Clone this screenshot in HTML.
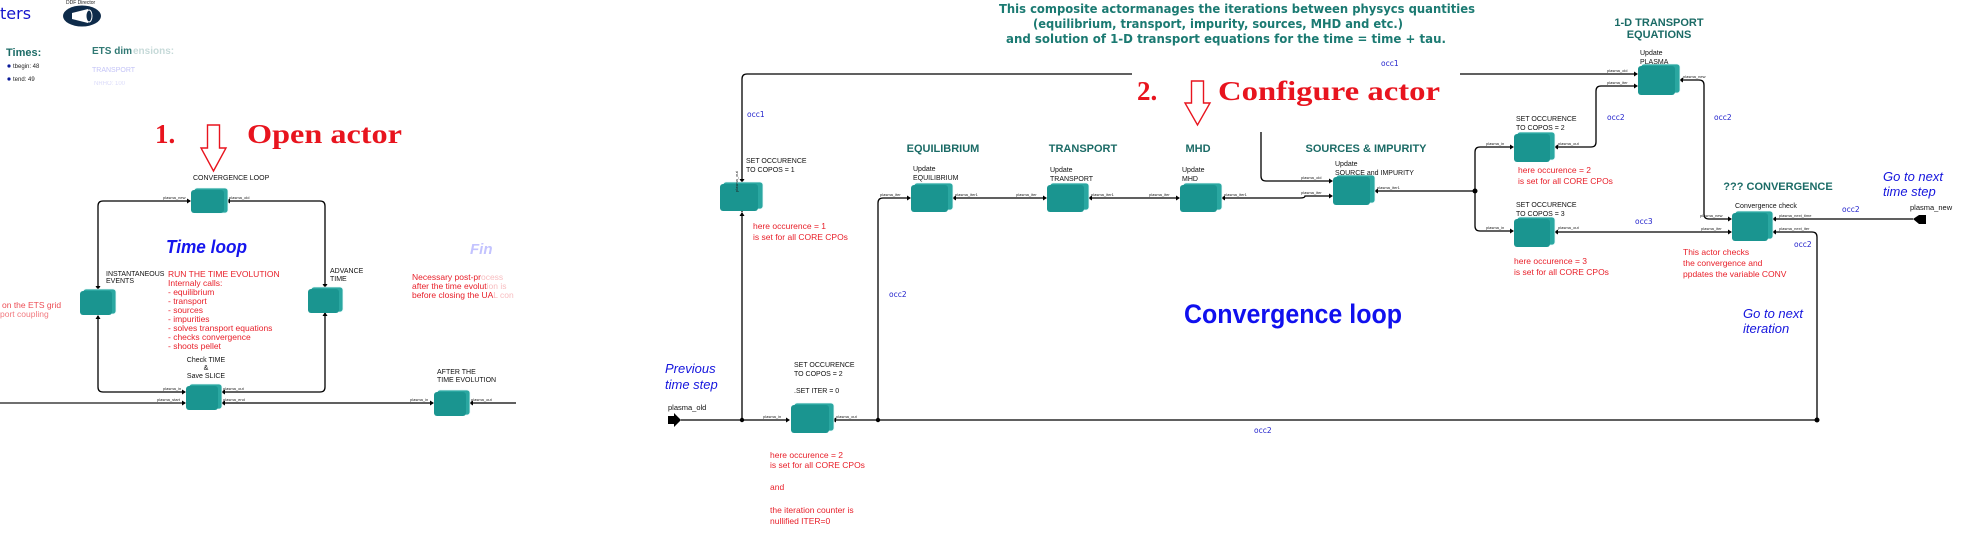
<!DOCTYPE html>
<html><head><meta charset="utf-8"><style>
html,body{margin:0;padding:0;background:#fff;}
svg{display:block;font-family:"Liberation Sans",sans-serif;}
.lb{font-size:7px;fill:#111;}
.pt{font-size:4px;fill:#222;}
.red{font-size:8.5px;fill:#e8202a;}
.occ{font-size:7.5px;fill:#2222cc;font-family:"DejaVu Sans",sans-serif;}
.hd{font-size:11px;font-weight:bold;fill:#1b6b66;}
.bl{font-style:italic;fill:#1515dd;font-size:13px;}
.ln{fill:none;stroke:#000;stroke-width:1.3;}
.b1{fill:#2aa7a1;stroke:#eafafa;stroke-width:0.8;}
.b2{fill:#1a9590;}
.ser{font-family:"Liberation Serif",serif;font-weight:bold;font-size:27px;fill:#e8141e;}
.dj{font-family:"DejaVu Sans",sans-serif;font-size:12.3px;font-weight:bold;fill:#1b7a72;}
</style></head><body>
<svg width="1979" height="547" viewBox="0 0 1979 547" xmlns="http://www.w3.org/2000/svg">
<rect width="1979" height="547" fill="#fff"/>

<!-- ===== LEFT PART ===== -->
<text x="0" y="19" style="font-size:16px;fill:#1515cc;font-family:'DejaVu Sans',sans-serif">ters</text>
<text x="66" y="4" font-size="5" fill="#222">DDF Director</text>
<ellipse cx="82" cy="16" rx="19" ry="10.5" fill="#0e2b4a"/>
<path d="M72 13 L88 9 L88 23 L72 19 Z" fill="#fff"/>
<ellipse cx="89" cy="16" rx="3" ry="6" fill="#0e2b4a" stroke="#fff" stroke-width="1"/>
<text x="6" y="56" font-size="11" font-weight="bold" fill="#1b6b66">Times:</text>
<circle cx="9" cy="66" r="1.6" fill="#0a1a99"/><text x="13" y="68" font-size="6" fill="#222">tbegin: 48</text>
<circle cx="9" cy="79" r="1.6" fill="#0a1a99"/><text x="13" y="81" font-size="6" fill="#222">tend: 49</text>
<text x="92" y="54" font-size="10" font-weight="bold" fill="#1b6b66" opacity="0.9">ETS dim</text>
<text x="133" y="54" font-size="10" font-weight="bold" fill="#1b6b66" opacity="0.25">ensions:</text>
<text x="92" y="72" font-size="7" fill="#8888ee" opacity="0.5">TRANSPORT</text>
<text x="94" y="85" font-size="6" fill="#8888ee" opacity="0.3">NRHO: 100</text>

<text x="155" y="143" class="ser">1.</text>
<path d="M207.5 125 H219.5 V148 H226 L213.5 171 L201 148 H207.5 Z" fill="#fff" stroke="#e8141e" stroke-width="1.4"/>
<text x="247" y="143" class="ser" textLength="155" lengthAdjust="spacingAndGlyphs">Open actor</text>

<text x="193" y="180" class="lb">CONVERGENCE    LOOP</text>
<path class="ln" d="M325 288 V206 Q325 201 320 201 H227"/>
<path class="ln" d="M190 201 H103 Q98 201 98 206 V289"/>
<path class="ln" d="M98 316 V387 Q98 392 103 392 H185"/>
<path class="ln" d="M222 392 H320 Q325 392 325 387 V313"/>
<path class="ln" d="M0 403 H185" stroke-opacity="0.9"/>
<path class="ln" d="M222 403 H433"/>
<path class="ln" d="M470 403 H516"/>
<path d="M191 201 l-4 -2.5 v5z M226 201 l4 -2.5 v5z M98 290 l-2.5 -4 h5z M325 312 l-2.5 4 h5z M186 392 l-4 -2.5 v5z M186 403 l-4 -2.5 v5z M434 403 l-4 -2.5 v5z M98 315 l-2.5 4 h5z M325 288 l-2.5 -4 h5z M221 392 l4 -2.5 v5z M221 403 l4 -2.5 v5z M469 403 l4 -2.5 v5z" fill="#000"/>
<rect class="b1" x="194" y="188" width="34" height="25" rx="3"/><rect class="b2" x="191" y="190" width="33" height="23" rx="3"/>
<rect class="b1" x="83" y="289" width="33" height="25" rx="3"/><rect class="b2" x="80" y="291" width="32" height="24" rx="3"/>
<rect class="b1" x="311" y="287" width="32" height="25" rx="3"/><rect class="b2" x="308" y="289" width="31" height="24" rx="3"/>
<rect class="b1" x="189" y="384" width="33" height="25" rx="3"/><rect class="b2" x="186" y="386" width="32" height="24" rx="3"/>
<rect class="b1" x="437" y="390" width="33" height="25" rx="3"/><rect class="b2" x="434" y="392" width="32" height="24" rx="3"/>
<text x="163" y="199" class="pt">plasma_new</text><text x="229" y="199" class="pt">plasma_old</text>
<text x="163" y="390" class="pt">plasma_in</text><text x="223" y="390" class="pt">plasma_out</text>
<text x="157" y="401" class="pt">plasma_start</text><text x="223" y="401" class="pt">plasma_end</text>
<text x="410" y="401" class="pt">plasma_in</text><text x="471" y="401" class="pt">plasma_out</text>

<text x="166" y="253" font-size="18" font-weight="bold" font-style="italic" fill="#1515ee" textLength="81" lengthAdjust="spacingAndGlyphs">Time loop</text>
<text x="106" y="276" class="lb">INSTANTANEOUS</text><text x="106" y="283" class="lb">EVENTS</text>
<text x="330" y="273" class="lb">ADVANCE</text><text x="330" y="281" class="lb">TIME</text>
<g class="red"><text x="168" y="277">RUN THE TIME EVOLUTION</text><text x="168" y="286">Internaly calls:</text>
<text x="168" y="295">- equilibrium</text><text x="168" y="304">- transport</text><text x="168" y="313">- sources</text>
<text x="168" y="322">- impurities</text><text x="168" y="331">- solves transport equations</text>
<text x="168" y="340">- checks convergence</text><text x="168" y="349">- shoots pellet</text></g>
<text x="206" y="362" class="lb" text-anchor="middle">Check TIME</text>
<text x="206" y="370" class="lb" text-anchor="middle">&amp;</text>
<text x="206" y="378" class="lb" text-anchor="middle">Save SLICE</text>
<text x="437" y="374" class="lb">AFTER THE</text><text x="437" y="382" class="lb">TIME EVOLUTION</text>
<text x="2" y="308" class="red" opacity="0.8">on the ETS grid</text>
<text x="0" y="317" class="red" opacity="0.6">port coupling</text>
<text x="412" y="280" class="red">Necessary post-pr<tspan opacity="0.3">ocess</tspan></text>
<text x="412" y="289" class="red">after the time evolut<tspan opacity="0.3">ion is</tspan></text>
<text x="412" y="298" class="red">before closing the UA<tspan opacity="0.3">L con</tspan></text>
<text x="470" y="254" font-size="15" font-style="italic" font-weight="bold" fill="#8888ff" opacity="0.5">Fin</text>

<!-- ===== RIGHT PART ===== -->
<text x="999" y="13" class="dj" textLength="476" lengthAdjust="spacingAndGlyphs">This composite actormanages the iterations between physycs quantities</text>
<text x="1033" y="28" class="dj" textLength="370" lengthAdjust="spacingAndGlyphs">(equilibrium, transport, impurity, sources, MHD and etc.)</text>
<text x="1006" y="43" class="dj" textLength="440" lengthAdjust="spacingAndGlyphs">and solution of 1-D transport equations for the time = time + tau.</text>
<text x="1659" y="26" class="hd" text-anchor="middle">1-D TRANSPORT</text>
<text x="1659" y="38" class="hd" text-anchor="middle">EQUATIONS</text>

<text x="1137" y="100" class="ser">2.</text>
<path d="M1191.5 81 H1203.5 V103 H1210 L1197.5 125 L1185 103 H1191.5 Z" fill="#fff" stroke="#e8141e" stroke-width="1.4"/>
<text x="1218" y="100" class="ser" textLength="222" lengthAdjust="spacingAndGlyphs">Configure actor</text>

<path class="ln" d="M742 212 V79 Q742 74 747 74 H1132"/>
<path class="ln" d="M1460 74 H1636"/>
<path class="ln" d="M1261 132 V176 Q1261 181 1266 181 H1331"/>
<path class="ln" d="M742 420 V213"/>
<path class="ln" d="M681 420 H788"/>
<path class="ln" d="M833 420 H1817 V237 Q1817 232 1812 232 H1774"/>
<path class="ln" d="M878 420 V203 Q878 198 883 198 H909"/>
<path class="ln" d="M953 198 H1045"/>
<path class="ln" d="M1089 198 H1178"/>
<path class="ln" d="M1222 198 H1300 Q1305 198 1305 196 H1331"/>
<path class="ln" d="M1375 191 H1475"/>
<path class="ln" d="M1512 147 H1480 Q1475 147 1475 152 V226 Q1475 231 1480 231 H1512"/>
<path class="ln" d="M1555 147 H1591 Q1596 147 1596 142 V91 Q1596 86 1601 86 H1636"/>
<path class="ln" d="M1680 80 H1699 Q1704 80 1704 85 V214 Q1704 219 1709 219 H1730"/>
<path class="ln" d="M1555 232 H1730"/>
<path class="ln" d="M1773 219 H1913"/>
<path d="M742 212 l-2.5 4 h5z M742 183 l-2.5 -4 h5z M790 420 l-4 -2.5 v5z M911 198 l-4 -2.5 v5z M1047 198 l-4 -2.5 v5z M1180 198 l-4 -2.5 v5z M1333 181 l-4 -2.5 v5z M1333 196 l-4 -2.5 v5z M1514 147 l-4 -2.5 v5z M1514 231 l-4 -2.5 v5z M1638 74 l-4 -2.5 v5z M1638 86 l-4 -2.5 v5z M1732 219 l-4 -2.5 v5z M1732 232 l-4 -2.5 v5z M832 420 l4 -2.5 v5z M952 198 l4 -2.5 v5z M1088 198 l4 -2.5 v5z M1221 198 l4 -2.5 v5z M1374 191 l4 -2.5 v5z M1554 147 l4 -2.5 v5z M1554 232 l4 -2.5 v5z M1679 80 l4 -2.5 v5z M1772 219 l4 -2.5 v5z M1772 232 l4 -2.5 v5z" fill="#000"/>
<path d="M668 416 h6 v-3 l7 7 l-7 7 v-3 h-6z" fill="#000"/>
<path d="M1913 219 l6 -4 h7 v9 h-7z" fill="#000"/>
<circle cx="742" cy="420" r="2.2"/><circle cx="878" cy="420" r="2.2"/><circle cx="1475" cy="191" r="2.5"/><circle cx="1817" cy="420" r="2.5"/>

<rect class="b1" x="723" y="182" width="40" height="27" rx="3"/><rect class="b2" x="720" y="184" width="38" height="27" rx="3"/>
<rect class="b1" x="794" y="403" width="40" height="28" rx="3"/><rect class="b2" x="791" y="405" width="38" height="28" rx="3"/>
<rect class="b1" x="914" y="183" width="39" height="27" rx="3"/><rect class="b2" x="911" y="185" width="37" height="27" rx="3"/>
<rect class="b1" x="1050" y="183" width="39" height="27" rx="3"/><rect class="b2" x="1047" y="185" width="37" height="27" rx="3"/>
<rect class="b1" x="1183" y="183" width="39" height="27" rx="3"/><rect class="b2" x="1180" y="185" width="37" height="27" rx="3"/>
<rect class="b1" x="1336" y="175" width="39" height="28" rx="3"/><rect class="b2" x="1333" y="177" width="37" height="28" rx="3"/>
<rect class="b1" x="1517" y="132" width="38" height="28" rx="3"/><rect class="b2" x="1514" y="134" width="36" height="28" rx="3"/>
<rect class="b1" x="1517" y="217" width="38" height="28" rx="3"/><rect class="b2" x="1514" y="219" width="36" height="28" rx="3"/>
<rect class="b1" x="1641" y="64" width="39" height="29" rx="3"/><rect class="b2" x="1638" y="66" width="37" height="29" rx="3"/>
<rect class="b1" x="1735" y="211" width="38" height="28" rx="3"/><rect class="b2" x="1732" y="213" width="36" height="28" rx="3"/>

<text x="726" y="180" class="pt" transform="rotate(-90 738 180)">plasma_out</text>
<text x="880" y="196" class="pt">plasma_iter</text><text x="955" y="196" class="pt">plasma_iter1</text>
<text x="1016" y="196" class="pt">plasma_iter</text><text x="1091" y="196" class="pt">plasma_iter1</text>
<text x="1149" y="196" class="pt">plasma_iter</text><text x="1224" y="196" class="pt">plasma_iter1</text>
<text x="1301" y="179" class="pt">plasma_old</text><text x="1301" y="194" class="pt">plasma_iter</text>
<text x="1377" y="189" class="pt">plasma_iter1</text>
<text x="1486" y="145" class="pt">plasma_in</text><text x="1558" y="145" class="pt">plasma_out</text>
<text x="1486" y="229" class="pt">plasma_in</text><text x="1558" y="229" class="pt">plasma_out</text>
<text x="1607" y="72" class="pt">plasma_old</text><text x="1607" y="84" class="pt">plasma_iter</text>
<text x="1683" y="78" class="pt">plasma_new</text>
<text x="1700" y="217" class="pt">plasma_new</text><text x="1701" y="230" class="pt">plasma_iter</text>
<text x="1779" y="217" class="pt">plasma_next_time</text><text x="1779" y="230" class="pt">plasma_next_iter</text>
<text x="763" y="418" class="pt">plasma_in</text><text x="836" y="418" class="pt">plasma_out</text>

<text x="746" y="163" class="lb">SET OCCURENCE</text><text x="746" y="172" class="lb">TO COPOS = 1</text>
<text x="753" y="229" class="red">here occurence = 1</text><text x="753" y="240" class="red">is set for all CORE CPOs</text>
<text x="747" y="117" class="occ">occ1</text>
<text x="1381" y="66" class="occ">occ1</text>
<text x="889" y="297" class="occ">occ2</text>
<text x="1254" y="433" class="occ">occ2</text>
<text x="1607" y="120" class="occ">occ2</text><text x="1714" y="120" class="occ">occ2</text>
<text x="1635" y="224" class="occ">occ3</text>
<text x="1842" y="212" class="occ">occ2</text>
<text x="1794" y="247" class="occ">occ2</text>

<text x="665" y="373" class="bl">Previous</text><text x="665" y="389" class="bl">time step</text>
<text x="668" y="410" font-size="7.5" fill="#111">plasma_old</text>
<text x="794" y="367" class="lb">SET OCCURENCE</text><text x="794" y="376" class="lb">TO COPOS = 2</text>
<text x="794" y="393" class="lb">.SET ITER = 0</text>
<g class="red"><text x="770" y="458">here occurence = 2</text><text x="770" y="468">is set for all CORE CPOs</text>
<text x="770" y="490">and</text><text x="770" y="513">the iteration counter is</text><text x="770" y="524">nullified ITER=0</text></g>

<text x="943" y="152" class="hd" text-anchor="middle">EQUILIBRIUM</text>
<text x="1083" y="152" class="hd" text-anchor="middle">TRANSPORT</text>
<text x="1198" y="152" class="hd" text-anchor="middle">MHD</text>
<text x="1366" y="152" class="hd" text-anchor="middle">SOURCES &amp; IMPURITY</text>
<text x="913" y="171" class="lb">Update</text><text x="913" y="180" class="lb">EQUILIBRIUM</text>
<text x="1050" y="172" class="lb">Update</text><text x="1050" y="181" class="lb">TRANSPORT</text>
<text x="1182" y="172" class="lb">Update</text><text x="1182" y="181" class="lb">MHD</text>
<text x="1335" y="166" class="lb">Update</text><text x="1335" y="175" class="lb">SOURCE and IMPURITY</text>
<text x="1640" y="55" class="lb">Update</text><text x="1640" y="64" class="lb">PLASMA</text>
<text x="1516" y="121" class="lb">SET OCCURENCE</text><text x="1516" y="130" class="lb">TO COPOS = 2</text>
<text x="1518" y="173" class="red">here occurence = 2</text><text x="1518" y="184" class="red">is set for all CORE CPOs</text>
<text x="1516" y="207" class="lb">SET OCCURENCE</text><text x="1516" y="216" class="lb">TO COPOS = 3</text>
<text x="1514" y="264" class="red">here occurence = 3</text><text x="1514" y="275" class="red">is set for all CORE CPOs</text>
<text x="1778" y="190" class="hd" text-anchor="middle">??? CONVERGENCE</text>
<text x="1735" y="208" class="lb">Convergence check</text>
<text x="1683" y="255" class="red">This actor checks</text><text x="1683" y="266" class="red">the convergence and</text><text x="1683" y="277" class="red">ppdates the variable CONV</text>
<text x="1910" y="210" font-size="7.5" fill="#111">plasma_new</text>
<text x="1883" y="181" class="bl">Go to next</text><text x="1883" y="196" class="bl">time step</text>
<text x="1743" y="318" class="bl">Go to next</text><text x="1743" y="333" class="bl">iteration</text>
<text x="1184" y="323" font-size="27" font-weight="bold" fill="#1010ee" textLength="218" lengthAdjust="spacingAndGlyphs">Convergence loop</text>
</svg>
</body></html>
